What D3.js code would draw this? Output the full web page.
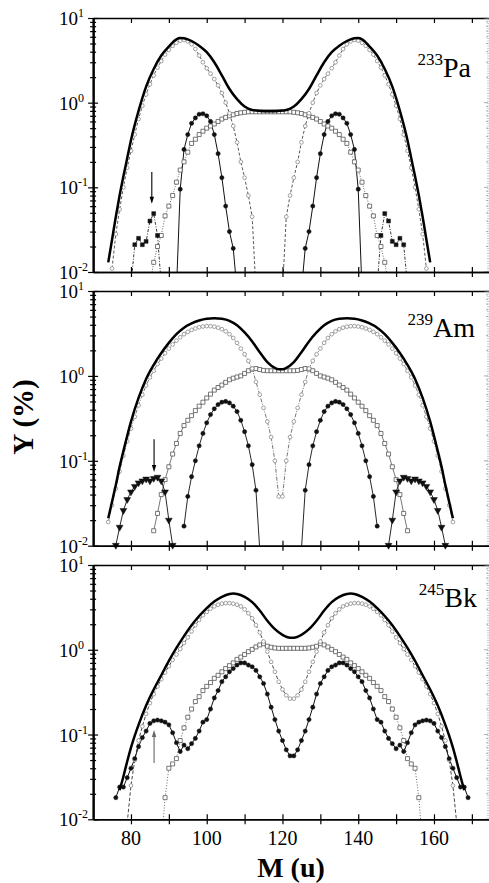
<!DOCTYPE html>
<html>
<head>
<meta charset="utf-8">
<script src="https://cdn.jsdelivr.net/npm/d3@7/dist/d3.min.js"></script>
<style>
  html, body { margin: 0; padding: 0; background: #fff; }
  svg { display: block; }
  text { font-family: "Liberation Serif", "DejaVu Serif", serif; fill: #000; }
</style>
</head>
<body>
<svg id="chart" width="489" height="883"></svg>
<script>
// ---------- 233Pa : mass yields (M, Y%) ----------
const paTotal = [[74,.013],[75,.024],[76,.045],[77,.08],[78,.135],[79,.22],[80,.36],[82,.8],[84,1.55],[86,2.5],[88,3.6],[90,4.6],[92,5.6],[93,5.8],[94,5.75],[95,5.6],[96,5.35],[98,4.7],[100,3.95],[102,3.0],[104,2.1],[106,1.45],[108,1.1],[110,.9],[112,.82],[114,.8],[116,.79],
  [117,.79],[119,.8],[121,.82],[123,.9],[125,1.1],[127,1.45],[129,2.1],[131,3.0],[133,3.95],[135,4.7],[137,5.35],[138,5.6],[139,5.75],[140,5.8],[141,5.6],[143,4.6],[145,3.6],[147,2.5],[149,1.55],[151,.8],[153,.36],[154,.22],[155,.135],[156,.08],[157,.045],[158,.024],[159,.013]];
const paStd = [[75,.011],[76,.028],[77,.055],[78,.1],[79,.17],[80,.27],[81,.42],[82,.64],[83,.92],[84,1.25],[85,1.65],[86,2.1],[87,2.6],[88,3.1],[89,3.7],[90,4.2],[91,4.7],[92,5.1],[93,5.4],[94,5.5],[95,5.3],[96,4.9],[97,4.3],[98,3.6],[99,3.0],[100,2.55],[101,2.2],[102,1.9],[103,1.6],[104,1.3],[105,1.0],[106,.75],[107,.53],[108,.34],[109,.2],[110,.13],[111,.08],[112,.045],[113,.006],
  [120,.006],[121,.045],[122,.08],[123,.13],[124,.2],[125,.34],[126,.53],[127,.75],[128,1.0],[129,1.3],[130,1.6],[131,1.9],[132,2.2],[133,2.55],[134,3.0],[135,3.6],[136,4.3],[137,4.9],[138,5.3],[139,5.5],[140,5.4],[141,5.1],[142,4.7],[143,4.2],[144,3.7],[145,3.1],[146,2.6],[147,2.1],[148,1.65],[149,1.25],[150,.92],[151,.64],[152,.42],[153,.27],[154,.17],[155,.1],[156,.055],[157,.028],[158,.011]];
const paSL = [[85,.007],[86,.013],[87,.02],[88,.027],[89,.046],[90,.06],[91,.08],[92,.115],[93,.16],[94,.2],[95,.26],[96,.33],[97,.37],[98,.42],[99,.46],[100,.5],[101,.53],[102,.56],[103,.6],[104,.64],[105,.67],[106,.7],[107,.72],[108,.745],[109,.76],[110,.77],[111,.78],[112,.78],[113,.78],[114,.78],[115,.78],[116,.78],
  [117,.78],[118,.78],[119,.78],[120,.78],[121,.78],[122,.78],[123,.77],[124,.76],[125,.745],[126,.72],[127,.7],[128,.67],[129,.64],[130,.6],[131,.56],[132,.53],[133,.5],[134,.46],[135,.42],[136,.37],[137,.33],[138,.26],[139,.2],[140,.16],[141,.115],[142,.08],[143,.06],[144,.046],[145,.027],[146,.02],[147,.013],[148,.007]];
const paAsym = [[92,.006],[93,.095],[94,.28],[95,.42],[96,.57],[97,.66],[98,.73],[99,.74],[100,.7],[101,.6],[102,.42],[103,.25],[104,.13],[105,.06],[106,.03],[107,.019],[108,.006],
  [125,.006],[126,.019],[127,.03],[128,.06],[129,.13],[130,.25],[131,.42],[132,.6],[133,.7],[134,.74],[135,.73],[136,.66],[137,.57],[138,.42],[139,.28],[140,.095],[141,.006]];
const paLight = [[80,.007],[81,.021],[82,.025],[83,.021],[84,.023],[85,.04],[86,.049],[87,.027],[88,.007]];
const paHeavy = [[145,.007],[146,.027],[147,.049],[148,.04],[149,.023],[150,.021],[151,.025],[152,.021],[153,.007]];

// ---------- 239Am ----------
const amTotal = [[74,.021],[75,.033],[76,.052],[77,.085],[78,.13],[80,.29],[82,.55],[84,.92],[86,1.35],[88,1.86],[90,2.45],[92,3.1],[94,3.7],[96,4.15],[98,4.5],[100,4.72],[102,4.78],[104,4.7],[106,4.45],[108,3.95],[110,3.25],[112,2.55],[114,1.9],[116,1.45],[118,1.24],[119,1.2],
  [120,1.2],[121,1.24],[123,1.45],[125,1.9],[127,2.55],[129,3.25],[131,3.95],[133,4.45],[135,4.7],[137,4.78],[139,4.72],[141,4.5],[143,4.15],[145,3.7],[147,3.1],[149,2.45],[151,1.86],[153,1.35],[155,.92],[157,.55],[159,.29],[161,.13],[162,.085],[163,.052],[164,.033],[165,.021]];
const amStd = [[74,.019],[75,.03],[76,.047],[77,.075],[78,.115],[79,.17],[80,.24],[81,.33],[82,.45],[83,.6],[84,.77],[85,.96],[86,1.15],[87,1.38],[88,1.6],[89,1.85],[90,2.1],[91,2.35],[92,2.6],[93,2.85],[94,3.1],[95,3.3],[96,3.48],[97,3.62],[98,3.74],[99,3.82],[100,3.86],[101,3.85],[102,3.8],[103,3.7],[104,3.55],[105,3.35],[106,3.1],[107,2.8],[108,2.45],[109,2.1],[110,1.8],[111,1.5],[112,1.22],[113,.85],[114,.6],[115,.42],[116,.29],[117,.19],[118,.1],[119,.038],
  [120,.038],[121,.1],[122,.19],[123,.29],[124,.42],[125,.6],[126,.85],[127,1.22],[128,1.5],[129,1.8],[130,2.1],[131,2.45],[132,2.8],[133,3.1],[134,3.35],[135,3.55],[136,3.7],[137,3.8],[138,3.85],[139,3.86],[140,3.82],[141,3.74],[142,3.62],[143,3.48],[144,3.3],[145,3.1],[146,2.85],[147,2.6],[148,2.35],[149,2.1],[150,1.85],[151,1.6],[152,1.38],[153,1.15],[154,.96],[155,.77],[156,.6],[157,.45],[158,.33],[159,.24],[160,.17],[161,.115],[162,.075],[163,.047],[164,.03],[165,.019]];
const amSL = [[86,.015],[87,.024],[88,.04],[89,.06],[90,.085],[91,.12],[92,.16],[93,.21],[94,.26],[95,.3],[96,.34],[97,.39],[98,.44],[99,.49],[100,.55],[101,.61],[102,.68],[103,.73],[104,.78],[105,.84],[106,.9],[107,.94],[108,.97],[109,1.0],[110,1.07],[111,1.15],[112,1.2],[113,1.22],[114,1.19],[115,1.16],[116,1.15],[117,1.15],[118,1.15],[119,1.15],
  [120,1.15],[121,1.15],[122,1.15],[123,1.15],[124,1.16],[125,1.19],[126,1.22],[127,1.2],[128,1.15],[129,1.07],[130,1.0],[131,.97],[132,.94],[133,.9],[134,.84],[135,.78],[136,.73],[137,.68],[138,.61],[139,.55],[140,.49],[141,.44],[142,.39],[143,.34],[144,.3],[145,.26],[146,.21],[147,.16],[148,.12],[149,.085],[150,.06],[151,.04],[152,.024],[153,.015]];
const amAsym = [[94,.017],[95,.038],[96,.065],[97,.1],[98,.15],[99,.21],[100,.28],[101,.35],[102,.41],[103,.46],[104,.49],[105,.5],[106,.48],[107,.44],[108,.38],[109,.3],[110,.22],[111,.15],[112,.09],[113,.045],[114,.009],
  [125,.009],[126,.045],[127,.09],[128,.15],[129,.22],[130,.3],[131,.38],[132,.44],[133,.48],[134,.5],[135,.49],[136,.46],[137,.41],[138,.35],[139,.28],[140,.21],[141,.15],[142,.1],[143,.065],[144,.038],[145,.017]];
const amLight = [[76,.0101],[77,.0165],[78,.026],[79,.035],[80,.043],[81,.05],[82,.055],[83,.058],[84,.061],[85,.058],[86,.062],[87,.064],[88,.058],[89,.043],[90,.02],[91,.0101]];
const amHeavy = [[148,.0101],[149,.02],[150,.043],[151,.058],[152,.064],[153,.062],[154,.058],[155,.061],[156,.058],[157,.055],[158,.05],[159,.043],[160,.035],[161,.026],[162,.0165],[163,.0101]];

// ---------- 245Bk ----------
const bkTotal = [[77,.022],[78,.032],[79,.048],[80,.07],[81,.097],[82,.13],[84,.22],[86,.34],[88,.5],[90,.74],[92,1.05],[94,1.45],[96,1.95],[98,2.5],[100,3.1],[102,3.7],[104,4.2],[106,4.55],[107,4.6],[108,4.55],[110,4.2],[112,3.65],[114,2.9],[116,2.2],[118,1.75],[120,1.5],[122,1.39],
  [123,1.39],[125,1.5],[127,1.75],[129,2.2],[131,2.9],[133,3.65],[135,4.2],[137,4.55],[138,4.6],[139,4.55],[141,4.2],[143,3.7],[145,3.1],[147,2.5],[149,1.95],[151,1.45],[153,1.05],[155,.74],[157,.5],[159,.34],[161,.22],[163,.13],[164,.097],[165,.07],[166,.048],[167,.032],[168,.022]];
const bkStd = [[79,.009],[80,.025],[81,.05],[82,.085],[83,.125],[84,.175],[85,.235],[86,.3],[87,.37],[88,.45],[89,.54],[90,.64],[91,.76],[92,.88],[93,1.02],[94,1.2],[95,1.4],[96,1.65],[97,1.95],[98,2.25],[99,2.55],[100,2.8],[101,3.05],[102,3.25],[103,3.4],[104,3.5],[105,3.55],[106,3.55],[107,3.5],[108,3.4],[109,3.25],[110,3.0],[111,2.7],[112,2.35],[113,1.95],[114,1.6],[115,1.25],[116,.95],[117,.72],[118,.55],[119,.42],[120,.34],[121,.29],[122,.265],
  [123,.265],[124,.29],[125,.34],[126,.42],[127,.55],[128,.72],[129,.95],[130,1.25],[131,1.6],[132,1.95],[133,2.35],[134,2.7],[135,3.0],[136,3.25],[137,3.4],[138,3.5],[139,3.55],[140,3.55],[141,3.5],[142,3.4],[143,3.25],[144,3.05],[145,2.8],[146,2.55],[147,2.25],[148,1.95],[149,1.65],[150,1.4],[151,1.2],[152,1.02],[153,.88],[154,.76],[155,.64],[156,.54],[157,.45],[158,.37],[159,.3],[160,.235],[161,.175],[162,.125],[163,.085],[164,.05],[165,.025],[166,.009]];
const bkSL = [[88,.005],[89,.018],[90,.04],[91,.045],[92,.052],[93,.085],[94,.12],[95,.16],[96,.2],[97,.245],[98,.28],[99,.33],[100,.37],[101,.41],[102,.46],[103,.5],[104,.55],[105,.6],[106,.65],[107,.7],[108,.77],[109,.82],[110,.88],[111,.95],[112,1.01],[113,1.08],[114,1.14],[115,1.18],[116,1.1],[117,1.07],[118,1.05],[119,1.04],[120,1.04],[121,1.04],[122,1.04],
  [123,1.04],[124,1.04],[125,1.04],[126,1.04],[127,1.05],[128,1.07],[129,1.1],[130,1.18],[131,1.14],[132,1.08],[133,1.01],[134,.95],[135,.88],[136,.82],[137,.77],[138,.7],[139,.65],[140,.6],[141,.55],[142,.5],[143,.46],[144,.41],[145,.37],[146,.33],[147,.28],[148,.245],[149,.2],[150,.16],[151,.12],[152,.085],[153,.052],[154,.045],[155,.04],[156,.018],[157,.005]];
const bkAsym = [[76,.018],[77,.024],[78,.024],[79,.031],[80,.04],[81,.052],[82,.072],[83,.092],[84,.11],[85,.135],[86,.145],[87,.148],[88,.145],[89,.14],[90,.13],[91,.105],[92,.08],[93,.063],[94,.075],[95,.068],[96,.078],[97,.09],[98,.11],[99,.14],[100,.15],[101,.2],[102,.27],[103,.33],[104,.42],[105,.48],[106,.55],[107,.6],[108,.66],[109,.7],[110,.7],[111,.66],[112,.63],[113,.57],[114,.48],[115,.4],[116,.3],[117,.21],[118,.15],[119,.11],[120,.085],[121,.066],[122,.056],
  [123,.056],[124,.066],[125,.085],[126,.11],[127,.15],[128,.21],[129,.3],[130,.4],[131,.48],[132,.57],[133,.63],[134,.66],[135,.7],[136,.7],[137,.66],[138,.6],[139,.55],[140,.48],[141,.42],[142,.33],[143,.27],[144,.2],[145,.15],[146,.14],[147,.11],[148,.09],[149,.078],[150,.068],[151,.075],[152,.063],[153,.08],[154,.105],[155,.13],[156,.14],[157,.145],[158,.148],[159,.145],[160,.135],[161,.11],[162,.092],[163,.072],[164,.052],[165,.04],[166,.031],[167,.024],[168,.024],[169,.018]];

// ---------- axes ----------
const massTicks = [80, 100, 120, 140, 160];
const massMinorTicks = [80, 90, 100, 110, 120, 130, 140, 150, 160, 170];
const yieldDecades = [0.01, 0.1, 1, 10];
const yieldExponents = ["-2", "-1", "0", "1"];
const yieldMinor = [2,3,4,5,6,7,8,9].flatMap(k => [k * 0.01, k * 0.1, k]);

// arrows marking the light-fragment feature: [mass, from Y, to Y]
const paArrow = [85.5, 0.152, 0.064];
const amArrow = [86.1, 0.18, 0.074];
const bkArrow = [86.1, 0.046, 0.113];

const svg = d3.select("#chart");
const x = d3.scaleLinear().domain([70, 175]).range([93.1, 490.8]);
const X0 = 93.1, XR = 488;

const panels = [
  { top: 18, bottom: 272, sup: "233", el: "Pa", lx: 471, ly: 77, arrow: paArrow, arrowColor: "#000",
    series: [
      { data: paSL, dash: "1,1.6", stroke: "#555", w: 0.9, marker: "square", open: true, mc: "#555" },
      { data: paStd, dash: "3,2", stroke: "#444", w: 0.9, marker: "circle", open: true, mc: "#8a8a8a" },
      { data: paLight, dash: "3,1.5,1,1.5", stroke: "#222", w: 0.9, marker: "square", open: false, mc: "#111" },
      { data: paHeavy, dash: "3,1.5,1,1.5", stroke: "#222", w: 0.9, marker: "square", open: false, mc: "#111" },
      { data: paAsym, dash: null, stroke: "#111", w: 1, marker: "circle", open: false, mc: "#111" }
    ], total: paTotal },
  { top: 291, bottom: 545.7, sup: "239", el: "Am", lx: 475, ly: 337, arrow: amArrow, arrowColor: "#000",
    series: [
      { data: amSL, dash: null, stroke: "#555", w: 0.8, marker: "square", open: true, mc: "#555" },
      { data: amStd, dash: "4,1.5,1,1.5", stroke: "#555", w: 0.8, marker: "circle", open: true, mc: "#8a8a8a" },
      { data: amLight, dash: null, stroke: "#111", w: 0.9, marker: "triangle", open: false, mc: "#111" },
      { data: amHeavy, dash: null, stroke: "#111", w: 0.9, marker: "triangle", open: false, mc: "#111" },
      { data: amAsym, dash: null, stroke: "#111", w: 0.9, marker: "circle", open: false, mc: "#111" }
    ], total: amTotal },
  { top: 565, bottom: 819.3, sup: "245", el: "Bk", lx: 477, ly: 607, arrow: bkArrow, arrowColor: "#666",
    series: [
      { data: bkSL, dash: "1,1.8", stroke: "#555", w: 0.9, marker: "square", open: true, mc: "#555" },
      { data: bkStd, dash: "3.5,2", stroke: "#333", w: 0.9, marker: "circle", open: true, mc: "#8a8a8a" },
      { data: bkAsym, dash: null, stroke: "#111", w: 1, marker: "circle", open: false, mc: "#111" }
    ], total: bkTotal }
];

const symbols = {
  circle: d3.symbol().type(d3.symbolCircle),
  square: d3.symbol().type(d3.symbolSquare),
  triangle: d3.symbol().type(d3.symbolTriangle)
};

panels.forEach((p, i) => {
  const y = d3.scaleLog().domain([0.01, 10]).range([p.bottom, p.top]);
  const g = svg.append("g");

  const clipId = "clip" + i;
  svg.append("defs").append("clipPath").attr("id", clipId)
    .append("rect").attr("x", X0).attr("y", p.top)
    .attr("width", 489 - X0).attr("height", p.bottom - p.top);

  const plot = g.append("g").attr("clip-path", `url(#${clipId})`);
  const marks = g.append("g");
  const top = g.append("g").attr("clip-path", `url(#${clipId})`);

  const line = smooth => d3.line()
    .x(d => x(d[0]))
    .y(d => y(Math.max(d[1], 0.001)))
    .curve(smooth ? d3.curveMonotoneX : d3.curveLinear);

  p.series.forEach(s => {
    plot.append("path").datum(s.data)
      .attr("d", line(false))
      .attr("fill", "none")
      .attr("stroke", s.stroke)
      .attr("stroke-width", s.w)
      .attr("stroke-dasharray", s.dash)
      .attr("stroke-linejoin", "round");

    const size = s.marker === "circle" ? (s.open ? 11 : 14) : s.marker === "square" ? (s.open ? 16 : 15) : 20;
    marks.selectAll(null)
      .data(s.data.filter(d => d[1] >= 0.0099))
      .enter().append("path")
      .attr("d", symbols[s.marker].size(size)())
      .attr("transform", d => `translate(${x(d[0])},${y(d[1])})` + (s.marker === "triangle" ? " rotate(180)" : ""))
      .attr("fill", s.open ? "#fff" : s.mc)
      .attr("stroke", s.mc)
      .attr("stroke-width", s.open ? 0.8 : 0.5);
  });

  // summed yield, drawn above the components
  top.append("path").datum(p.total)
    .attr("d", line(true))
    .attr("fill", "none")
    .attr("stroke", "#000")
    .attr("stroke-width", 2.5)
    .attr("stroke-linejoin", "round");

  // arrow
  const [am, y1, y2] = p.arrow;
  const ax = x(am), ay1 = y(y1), ay2 = y(y2);
  const dir = ay2 > ay1 ? 1 : -1;
  g.append("line").attr("x1", ax).attr("x2", ax).attr("y1", ay1).attr("y2", ay2 - dir * 5)
    .attr("stroke", p.arrowColor).attr("stroke-width", 1.1);
  g.append("path")
    .attr("d", `M${ax - 2.2},${ay2 - dir * 7}L${ax + 2.2},${ay2 - dir * 7}L${ax},${ay2}Z`)
    .attr("fill", p.arrowColor);

  // frame: top axis, right spine
  const axisStyle = sel => {
    sel.selectAll("path.domain").attr("stroke", "#000").attr("stroke-width", 1.6);
    sel.selectAll(".tick line").attr("stroke", "#000").attr("stroke-width", 1.2);
    sel.selectAll(".tick text").remove();
  };
  g.append("g").attr("transform", `translate(0,${p.top})`)
    .call(d3.axisBottom(x).tickValues(massMinorTicks).tickSize(5).tickSizeOuter(0))
    .call(axisStyle);

  g.append("line").attr("x1", XR).attr("x2", XR).attr("y1", p.top).attr("y2", p.bottom)
    .attr("stroke", "#999").attr("stroke-width", 1).attr("stroke-dasharray", "1,1.5");
  g.selectAll(null).data(yieldDecades.concat(yieldMinor)).enter().append("line")
    .attr("x1", d => XR - (yieldDecades.includes(d) ? 4 : 2)).attr("x2", XR)
    .attr("y1", d => y(d)).attr("y2", d => y(d))
    .attr("stroke", "#999").attr("stroke-width", 0.8);

  // bottom axis, ticks crossing the line
  g.append("g").attr("transform", `translate(0,${p.bottom})`)
    .call(d3.axisBottom(x).tickValues(massMinorTicks).tickSize(5).tickSizeOuter(0))
    .call(axisStyle);
  g.append("g").attr("transform", `translate(0,${p.bottom})`)
    .call(d3.axisTop(x).tickValues(massMinorTicks).tickSize(5).tickSizeOuter(0))
    .call(axisStyle);

  // left axis, ticks crossing the spine
  [[yieldDecades, 5], [yieldMinor, 3]].forEach(([vals, len]) => {
    g.append("g").attr("transform", `translate(${X0},0)`)
      .call(d3.axisLeft(y).tickValues(vals).tickSize(len).tickSizeOuter(0))
      .call(axisStyle);
    g.append("g").attr("transform", `translate(${X0},0)`)
      .call(d3.axisRight(y).tickValues(vals).tickSize(len).tickSizeOuter(0))
      .call(axisStyle);
  });

  // decade labels 10^n
  yieldDecades.forEach((d, k) => {
    const t = g.append("text").attr("x", 59).attr("y", y(d) + 7).attr("font-size", 19);
    t.append("tspan").text("10");
    t.append("tspan").attr("font-size", 12).attr("dy", -8).text(yieldExponents[k]);
  });

  // nucleus label
  const lab = g.append("text").attr("x", p.lx).attr("y", p.ly)
    .attr("text-anchor", "end").attr("font-size", 28);
  lab.append("tspan").attr("font-size", 17).attr("dy", -12).text(p.sup);
  lab.append("tspan").attr("dy", 12).text(p.el);

  if (i === panels.length - 1) {
    g.selectAll(null).data(massTicks).enter().append("text")
      .attr("x", d => x(d)).attr("y", 845).attr("text-anchor", "middle")
      .attr("font-size", 20).text(d => d);
  }
});

svg.append("text").attr("x", 291).attr("y", 877).attr("text-anchor", "middle")
  .attr("font-size", 28).attr("font-weight", "bold").text("M (u)");
svg.append("text").attr("transform", "translate(33,417) rotate(-90)")
  .attr("text-anchor", "middle").attr("font-size", 29).attr("font-weight", "bold").text("Y (%)");
</script>
</body>
</html>
